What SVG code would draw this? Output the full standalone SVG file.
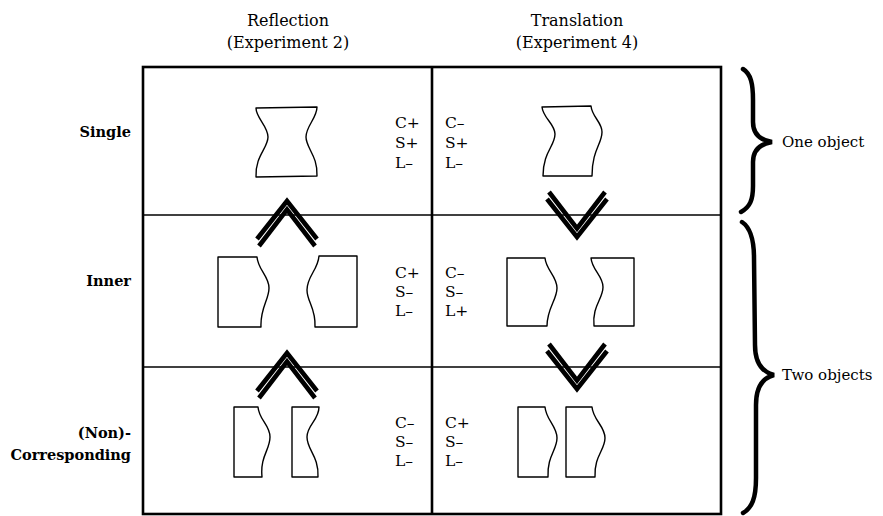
<svg xmlns="http://www.w3.org/2000/svg" width="883" height="516" viewBox="0 0 883 516">
<style>
  .hdr { font-family: "DejaVu Serif", "Liberation Serif", serif; font-size: 16px; fill: #000; text-anchor: middle; }
  .row { font-family: "DejaVu Serif", "Liberation Serif", serif; font-size: 14.5px; font-weight: bold; fill: #000; text-anchor: end; }
  .code { font-family: "DejaVu Serif", "Liberation Serif", serif; font-size: 15.5px; fill: #000; }
  .side { font-family: "DejaVu Serif", "Liberation Serif", serif; font-size: 15px; fill: #000; }
  .frame { fill: none; stroke: #000; stroke-width: 2.6; }
  .div { fill: none; stroke: #000; stroke-width: 1.6; }
  .obj { fill: #fff; stroke: #000; stroke-width: 1.4; stroke-linejoin: round; }
  .chev polyline { fill: none; stroke: #000; stroke-width: 4.6; stroke-linejoin: miter; stroke-miterlimit: 10; }
  .brace { fill: none; stroke: #000; stroke-width: 4.5; stroke-linecap: round; }
</style>
<defs>
  <g id="chevUp" class="chev">
    <polyline points="-30,38 0,0 30,38"/>
    <polyline points="-28,45 0,8.5 28,45"/>
  </g>
</defs>
<rect width="883" height="516" fill="#fff"/>

<g id="headers">
  <text class="hdr" x="288" y="26">Reflection</text>
  <text class="hdr" x="288" y="48">(Experiment 2)</text>
  <text class="hdr" x="577" y="26">Translation</text>
  <text class="hdr" x="577" y="48">(Experiment 4)</text>
</g>

<g id="grid">
  <rect class="frame" x="143" y="67" width="578" height="447"/>
  <line class="frame" x1="432" y1="67" x2="432" y2="514"/>
  <line class="div" x1="143" y1="215" x2="721" y2="215"/>
  <line class="div" x1="143" y1="367" x2="721" y2="367"/>
</g>

<g id="row-labels">
  <text class="row" x="131" y="137">Single</text>
  <text class="row" x="131" y="286">Inner</text>
  <text class="row" x="131" y="438">(Non)-</text>
  <text class="row" x="131" y="460">Corresponding</text>
</g>

<g id="single-reflection">
  <path class="obj" d="M 256 108 L 317 107 C 317 118 306 126 306 137 C 306 148 318 156 317 176 L 256 177 C 255 156 268 148 268 137 C 268 126 256 118 256 108 Z"/>
  <text class="code" x="395" y="128">C+</text>
  <text class="code" x="395" y="148">S+</text>
  <text class="code" x="395" y="168">L–</text>
</g>

<g id="single-translation">
  <path class="obj" d="M 542 107 L 591 106 C 592 117 602 122 602 132 C 602 144 592 150 592 176 L 543 176 C 543 152 555 146 555 134 C 555 124 543 118 542 107 Z"/>
  <text class="code" x="445" y="128">C–</text>
  <text class="code" x="445" y="148">S+</text>
  <text class="code" x="445" y="168">L–</text>
</g>

<g id="inner-reflection">
  <path class="obj" d="M 218 257 L 257 257 C 258 270 269 276 269 288 C 269 300 260 308 261 327 L 218 327 Z"/>
  <path class="obj" d="M 357 256 L 319 256 C 318 270 307 276 307 290 C 307 302 316 308 315 327 L 357 327 Z"/>
  <text class="code" x="395" y="278">C+</text>
  <text class="code" x="395" y="297">S–</text>
  <text class="code" x="395" y="316">L–</text>
</g>

<g id="inner-translation">
  <path class="obj" d="M 507 258 L 545 258 C 546 270 557 276 557 288 C 557 300 547 308 547 326 L 507 326 Z"/>
  <path class="obj" d="M 634 258 L 591 258 C 592 270 603 276 603 287 C 603 299 592 306 594 326 L 634 326 Z"/>
  <text class="code" x="445" y="278">C–</text>
  <text class="code" x="445" y="297">S–</text>
  <text class="code" x="445" y="316">L+</text>
</g>

<g id="corresponding-reflection">
  <path class="obj" d="M 234 407 L 258 407 C 259 420 270 425 270 437 C 270 450 260 456 262 477 L 234 477 Z"/>
  <path class="obj" d="M 292 407 L 319 407 C 319 420 307 425 307 437 C 307 450 319 456 318 477 L 292 477 Z"/>
  <text class="code" x="395" y="428">C–</text>
  <text class="code" x="395" y="447">S–</text>
  <text class="code" x="395" y="466">L–</text>
</g>

<g id="corresponding-translation">
  <path class="obj" d="M 518 407 L 545 407 C 546 420 557 426 557 438 C 557 450 547 456 548 477 L 518 477 Z"/>
  <path class="obj" d="M 566 407 L 592 407 C 593 420 605 426 605 438 C 605 450 594 456 595 477 L 566 477 Z"/>
  <text class="code" x="445" y="428">C+</text>
  <text class="code" x="445" y="447">S–</text>
  <text class="code" x="445" y="466">L–</text>
</g>

<g id="connectors">
  <use href="#chevUp" transform="translate(287,201)"/>
  <use href="#chevUp" transform="translate(287,353)"/>
  <use href="#chevUp" transform="translate(577,237) scale(1,-1)"/>
  <use href="#chevUp" transform="translate(577,389) scale(1,-1)"/>
</g>

<g id="one-object">
  <path class="brace" d="M 743 69 C 751 74 753 84 753 100 L 753 122 C 753 134 760 140 772 142 C 760 144 753 150 753 162 L 753 186 C 753 200 750 207 741 212"/>
  <text class="side" x="782" y="147">One object</text>
</g>

<g id="two-objects">
  <path class="brace" d="M 742 222 C 751 228 754 240 754 258 L 755 345 C 755 362 762 372 774 375 C 762 378 756 388 756 405 L 756 478 C 756 498 752 508 743 513"/>
  <text class="side" x="782" y="380">Two objects</text>
</g>
</svg>
